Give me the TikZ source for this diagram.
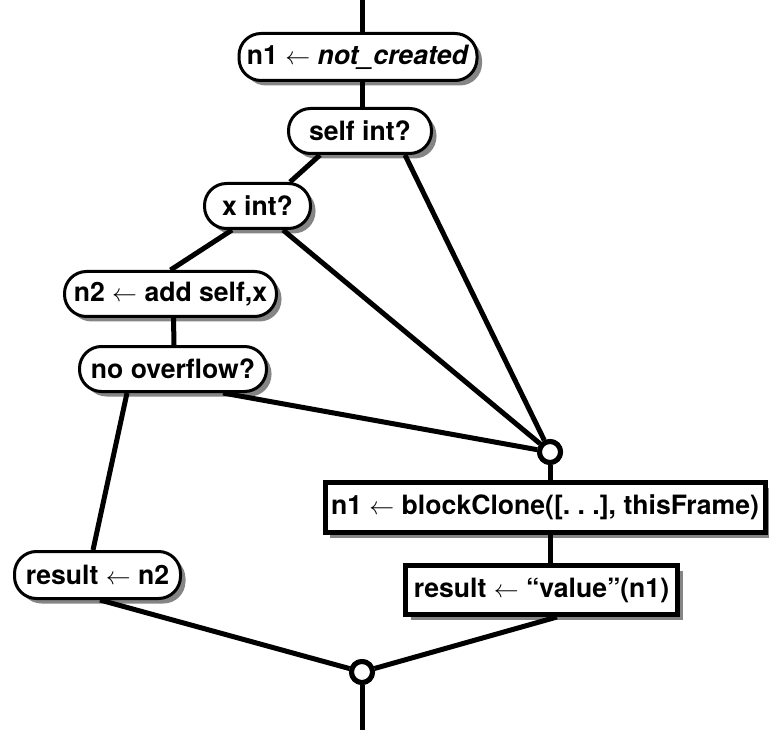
\documentclass[tikz,border=0pt]{standalone}
\usepackage{fontspec}
\setmainfont{TeX Gyre Heros}
\usetikzlibrary{shadows}
\begin{document}
\begin{tikzpicture}[x=1pt,y=-1pt,
  every node/.style={font=\bfseries\fontsize{26.6}{30}\selectfont, inner sep=0pt},
  shade box/.style={drop shadow={opacity=1,fill=black!48,shadow xshift=5pt,shadow yshift=-5pt}},
  test/.style={draw, line width=3pt, fill=white, rounded corners=22pt, shade box, minimum height=45pt},
  action/.style={draw, line width=5pt, fill=white, shade box, minimum height=50pt},
  joint/.style={circle, draw, line width=5pt, fill=white, minimum size=21pt},
  flow/.style={line width=5pt}]
\useasboundingbox (0,0) rectangle (769,730);

% open ends of the flow
\coordinate (top) at (362,0);
\coordinate (bot) at (362,730);

% decision and assignment steps
\node[test, minimum width=238pt, minimum height=47pt] (n1) at (358,57) {n1 $\leftarrow$ \textit{not\_created}};
\node[test, minimum width=143pt] (self) at (360,131) {self int?};
\node[test, minimum width=106pt] (xint) at (257.5,206) {x int?};
\node[test, minimum width=212pt] (add) at (170.5,294) {n2 $\leftarrow$ add self,x};
\node[test, minimum width=187pt] (ovf) at (173,369) {no overflow?};
\node[test, minimum width=166pt, minimum height=47pt] (rn2) at (97.5,575) {result $\leftarrow$ n2};

% slow path
\node[action, minimum width=440pt] (clone) at (545,507.5) {n1 $\leftarrow$ blockClone([.~.~.], thisFrame)};
\node[action, minimum width=272pt, minimum height=49pt] (val) at (541.5,590) {result $\leftarrow$ ``value''(n1)};

% merge points
\node[joint] (m1) at (550,452) {};
\node[joint] (m2) at (362,672) {};

% connectors
\draw[flow] (top) -- (top |- n1.north);
\draw[flow] (n1.south -| top) -- (self.north -| top);
\draw[flow] ([xshift=-40pt]self.south) -- ([xshift=32.5pt]xint.north);
\draw[flow] ([xshift=45pt]self.south) -- (m1);
\draw[flow] ([xshift=-25.5pt]xint.south) -- (add.north);
\draw[flow] ([xshift=25.5pt]xint.south) -- (m1);
\draw[flow] ([xshift=3pt]add.south) -- ([xshift=1pt]ovf.north);
\draw[flow] ([xshift=-46pt]ovf.south) -- ([xshift=-4.5pt]rn2.north);
\draw[flow] ([xshift=50pt]ovf.south) -- (m1);
\draw[flow] (m1) -- (m1 |- clone.north);
\draw[flow] (m1 |- clone.south) -- (m1 |- val.north);
\draw[flow] ([xshift=15.5pt]val.south) -- (m2);
\draw[flow] ([xshift=2.5pt]rn2.south) -- (m2);
\draw[flow] (m2) -- (bot);

% redraw merge points over the connector ends
\node[joint] at (m1) {};
\node[joint] at (m2) {};
\end{tikzpicture}
\end{document}
